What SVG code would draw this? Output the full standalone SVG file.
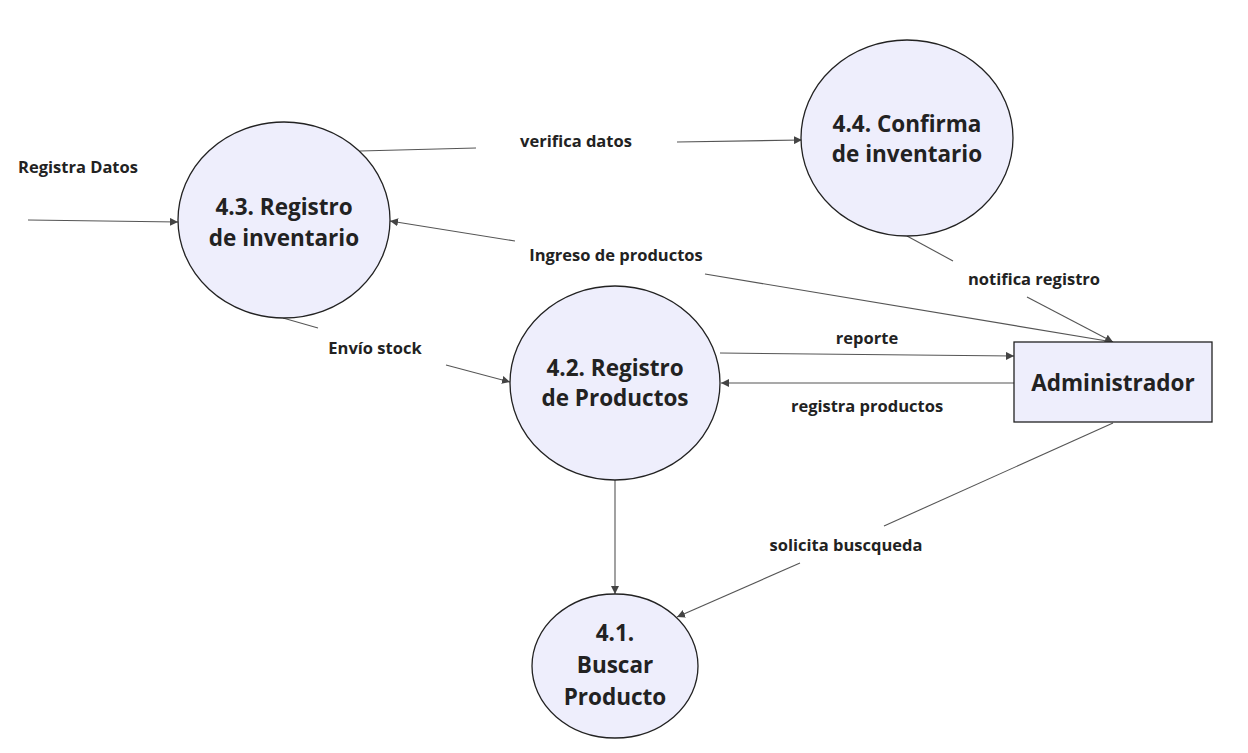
<svg xmlns="http://www.w3.org/2000/svg" width="1248" height="753" viewBox="0 0 1248 753">
<style>
.node{fill:#EEEEFC;stroke:#222;stroke-width:1.3}
.nl{font-family:"Open Sans","Noto Sans",sans-serif;font-weight:700;font-size:22.5px;fill:#222;text-anchor:middle}
.el{font-family:"Open Sans","Noto Sans",sans-serif;font-weight:700;font-size:16.5px;fill:#222;text-anchor:middle}
.c{stroke:#555;stroke-width:1.1;fill:none}
</style>
<defs>
<marker id="ah" viewBox="0 0 10 10" refX="10" refY="5" markerWidth="8" markerHeight="8" markerUnits="userSpaceOnUse" orient="auto">
<path d="M0,0 L10,5 L0,10 z" fill="#444"/>
</marker>
</defs>
<rect width="1248" height="753" fill="#fff"/>
<g id="connectors">
<line class="c" x1="28" y1="220" x2="178" y2="222" marker-end="url(#ah)"/>
<line class="c" x1="360" y1="151" x2="476" y2="148"/>
<line class="c" x1="677" y1="142" x2="802" y2="140" marker-end="url(#ah)"/>
<line class="c" x1="1113" y1="342" x2="705" y2="274"/>
<line class="c" x1="515" y1="241" x2="390" y2="221" marker-end="url(#ah)"/>
<line class="c" x1="907" y1="236" x2="953" y2="261"/>
<line class="c" x1="1027" y1="297" x2="1113" y2="342" marker-end="url(#ah)"/>
<line class="c" x1="283" y1="318" x2="318" y2="328"/>
<line class="c" x1="446" y1="365" x2="510" y2="382" marker-end="url(#ah)"/>
<line class="c" x1="720" y1="353" x2="1014" y2="356" marker-end="url(#ah)"/>
<line class="c" x1="1014" y1="383" x2="721" y2="383" marker-end="url(#ah)"/>
<line class="c" x1="615" y1="480" x2="615" y2="594" marker-end="url(#ah)"/>
<line class="c" x1="1113" y1="423" x2="884" y2="526"/>
<line class="c" x1="800" y1="563" x2="677" y2="617" marker-end="url(#ah)"/>
<text class="el" x="78" y="173">Registra Datos</text>
<text class="el" x="576" y="147">verifica datos</text>
<text class="el" x="616" y="261">Ingreso de productos</text>
<text class="el" x="1034" y="285">notifica registro</text>
<text class="el" x="375" y="354">Envío stock</text>
<text class="el" x="867" y="344">reporte</text>
<text class="el" x="867" y="412">registra productos</text>
<text class="el" x="846" y="551">solicita buscqueda</text>
</g>
<g id="n43">
<ellipse class="node" cx="284" cy="220" rx="106" ry="98"/>
<text class="nl" x="284" y="215">4.3. Registro</text>
<text class="nl" x="284" y="246">de inventario</text>
</g>
<g id="n44">
<ellipse class="node" cx="907" cy="138" rx="106" ry="98"/>
<text class="nl" x="907" y="132">4.4. Confirma</text>
<text class="nl" x="907" y="162">de inventario</text>
</g>
<g id="n42">
<ellipse class="node" cx="615" cy="383" rx="105" ry="97"/>
<text class="nl" x="615" y="376">4.2. Registro</text>
<text class="nl" x="615" y="406">de Productos</text>
</g>
<g id="n41">
<ellipse class="node" cx="615" cy="666" rx="83" ry="72"/>
<text class="nl" x="615" y="641">4.1.</text>
<text class="nl" x="615" y="673">Buscar</text>
<text class="nl" x="615" y="705">Producto</text>
</g>
<g id="admin">
<rect class="node" x="1014" y="342" width="198" height="80"/>
<text class="nl" x="1113" y="391">Administrador</text>
</g>
</svg>
